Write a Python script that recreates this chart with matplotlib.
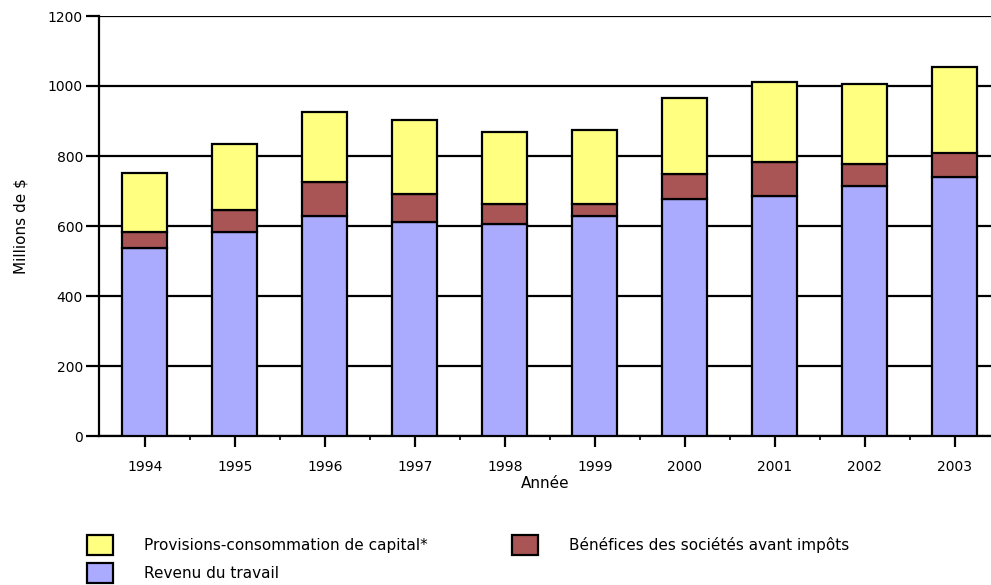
import matplotlib.pyplot as plt
import numpy as np
from matplotlib.patches import Patch
from matplotlib.ticker import MultipleLocator

years = ['1994', '1995', '1996', '1997', '1998', '1999', '2000', '2001', '2002', '2003']
revenu_travail = [536, 582, 628, 611, 605, 628, 678, 685, 713, 741]
benefices = [46, 63, 98, 80, 57, 35, 70, 97, 63, 69]
provisions = [168, 189, 200, 213, 207, 212, 218, 229, 229, 243]

col_blue = '#aaaaff'
col_red = '#aa5555'
col_yellow = '#ffff80'

plt.rcParams['font.family'] = ['DejaVu Sans']

fig = plt.figure(figsize=(9.91, 5.85), dpi=100)
ax = fig.add_axes([99 / 991, 1 - 436 / 585, 1 - 99 / 991, (436 - 16) / 585])

x = np.arange(len(years))
w = 0.5
blue = np.array(revenu_travail)
red = np.array(benefices)
yel = np.array(provisions)

ax.bar(x, blue, w, color=col_blue, edgecolor='black', linewidth=1.6, zorder=3)
ax.bar(x, red, w, bottom=blue, color=col_red, edgecolor='black', linewidth=1.6, zorder=3)
ax.bar(x, yel, w, bottom=blue + red, color=col_yellow, edgecolor='black', linewidth=1.6, zorder=3)

ax.set_xlim(-0.511, 9.4)
ax.set_ylim(0, 1200)
ax.yaxis.set_major_locator(MultipleLocator(200))
ax.grid(axis='y', color='black', linewidth=1.6, zorder=0)
ax.set_axisbelow(True)

for s in ['top', 'right']:
    ax.spines[s].set_visible(False)
ax.spines['left'].set_linewidth(1.6)
ax.spines['bottom'].set_linewidth(1.6)

ax.set_xticks(x)
ax.set_xticklabels(years, fontsize=10)
ax.set_xticks(x[:-1] + 0.5, minor=True)
ax.tick_params(axis='x', which='major', length=8, width=1.6, direction='out', pad=9)
ax.tick_params(axis='x', which='minor', length=3, width=1.2, direction='out')
ax.tick_params(axis='y', length=9.5, width=1.6, direction='out', labelsize=10, pad=2)

ax.set_xlabel('Année', fontsize=11, labelpad=2)
ax.set_ylabel('Millions de $', fontsize=11, labelpad=14)

leg_kw = dict(frameon=False, fontsize=11, handlelength=1.7, handleheight=1.6,
              handletextpad=2.0, labelspacing=0.55, borderpad=0, borderaxespad=0)
h_prov = Patch(facecolor=col_yellow, edgecolor='black', linewidth=1.6)
h_rev = Patch(facecolor=col_blue, edgecolor='black', linewidth=1.6)
h_ben = Patch(facecolor=col_red, edgecolor='black', linewidth=1.6)

fig.legend([h_prov, h_rev], ['Provisions-consommation de capital*', 'Revenu du travail'],
           loc='upper left', bbox_to_anchor=(87 / 991, 1 - 535 / 585), **leg_kw)
fig.legend([h_ben], ['Bénéfices des sociétés avant impôts'],
           loc='upper left', bbox_to_anchor=(512 / 991, 1 - 535 / 585), **leg_kw)

fig.savefig('out.png', dpi=100)
